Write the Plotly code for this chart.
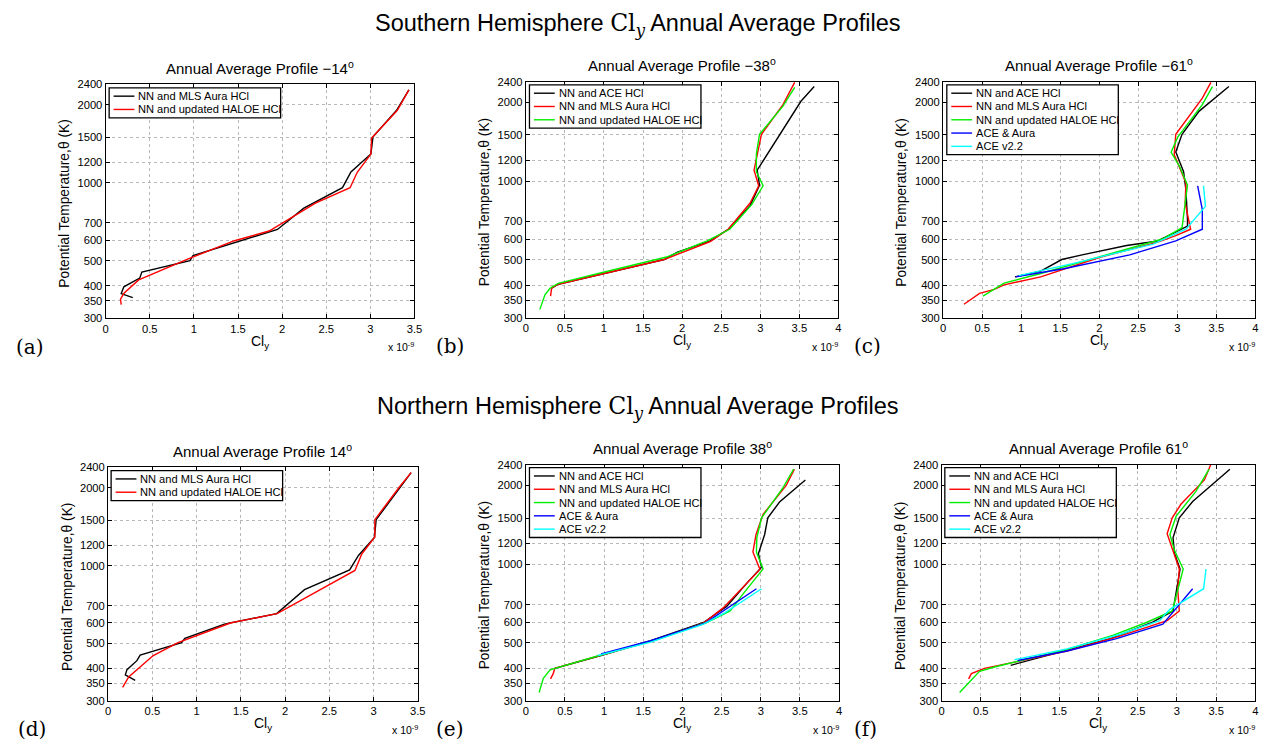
import plotly.graph_objects as go

# ---------------- data (Cl_y in units of 1e-9, theta in K) ----------------
# (a) Southern -14
a_mls_x = [3.437, 3.295, 3.03, 3.006, 2.78, 2.684, 2.246, 1.947, 0.99, 0.955, 0.41, 0.386, 0.206, 0.176, 0.307]
a_mls_t = [2284, 1901, 1504, 1292, 1100, 957, 798, 660, 523, 500, 452, 428, 396, 373, 360]
a_hal_x = [3.437, 3.306, 3.014, 3.006, 2.853, 2.77, 2.377, 1.853, 1.46, 0.936, 0.374, 0.21, 0.168, 0.176]
a_hal_t = [2284, 1905, 1490, 1290, 1100, 957, 834, 651, 597, 508, 421, 375, 355, 338]

# (b) Southern -38
b_ace_x = [3.69, 3.52, 2.96, 2.99, 2.87, 2.59, 2.36, 1.94, 1.77, 1.006, 0.414, 0.33]
b_ace_t = [2297, 2018, 1100, 965, 805, 654, 590, 535, 501, 443, 403, 389]
b_mls_x = [3.44, 3.29, 3.015, 2.95, 2.92, 2.98, 2.87, 2.59, 2.36, 1.77, 1.006, 0.414, 0.33, 0.317]
b_mls_t = [2385, 1960, 1509, 1200, 1100, 959, 824, 654, 587, 501, 443, 403, 389, 363]
b_hal_x = [3.44, 3.29, 2.99, 2.95, 2.95, 3.036, 2.89, 2.61, 2.32, 1.80, 1.006, 0.414, 0.31, 0.245, 0.18]
b_hal_t = [2279, 1934, 1509, 1270, 1085, 959, 812, 654, 590, 512, 449, 406, 389, 367, 323]

# (c) Southern -61
c_ace_x = [3.66, 3.28, 3.06, 2.98, 3.08, 3.11, 3.13, 3.13, 2.75, 2.35, 1.78, 1.52, 1.25, 0.92]
c_ace_t = [2297, 1851, 1509, 1290, 1085, 925, 713, 672, 590, 567, 522, 501, 452, 430]
c_mls_x = [3.43, 3.32, 2.98, 2.96, 3.11, 3.10, 3.17, 2.98, 2.75, 2.01, 1.25, 0.78, 0.656, 0.466, 0.267]
c_mls_t = [2385, 2075, 1509, 1260, 985, 824, 654, 618, 584, 511, 430, 401, 385, 372, 338]
c_hal_x = [3.45, 3.32, 3.005, 2.92, 3.03, 3.13, 3.06, 2.81, 2.01, 1.25, 0.78, 0.51]
c_hal_t = [2297, 1960, 1471, 1290, 1134, 965, 663, 600, 514, 443, 407, 363]
c_both_x = [3.26, 3.32, 3.32, 2.98, 2.39, 1.545, 0.93]
c_both_t = [959, 777, 654, 590, 522, 462, 430]
c_v22_x = [3.335, 3.36, 3.11, 2.69, 1.67, 1.16, 0.97]
c_v22_t = [959, 800, 654, 574, 484, 449, 435]

# (d) Northern 14
d_mls_x = [3.425, 3.295, 3.03, 3.01, 2.83, 2.73, 2.22, 1.905, 1.315, 0.867, 0.83, 0.362, 0.325, 0.213, 0.194, 0.306]
d_mls_t = [2290, 1990, 1506, 1286, 1095, 963, 807, 652, 594, 523, 504, 451, 429, 396, 378, 360]
d_hal_x = [3.425, 3.295, 3.015, 3.015, 2.865, 2.79, 1.91, 1.39, 0.79, 0.51, 0.232, 0.164]
d_hal_t = [2290, 2018, 1506, 1290, 1105, 958, 652, 601, 504, 449, 371, 338]

# (e) Northern 38
e_ace_x = [3.57, 3.24, 3.09, 3.05, 2.97, 3.01, 2.84, 2.565, 2.27, 1.595, 0.96, 0.37]
e_ace_t = [2098, 1727, 1502, 1298, 1095, 973, 857, 689, 598, 509, 447, 399]
e_mls_x = [3.43, 3.325, 3.03, 2.94, 2.90, 2.99, 2.52, 2.27, 1.68, 0.96, 0.37, 0.35, 0.316]
e_mls_t = [2306, 2001, 1549, 1298, 1112, 954, 680, 595, 515, 447, 399, 381, 364]
e_hal_x = [3.42, 3.28, 3.01, 2.95, 2.945, 3.03, 2.78, 2.61, 2.31, 1.68, 0.96, 0.37, 0.31, 0.224, 0.17]
e_hal_t = [2306, 1950, 1502, 1260, 1112, 958, 773, 662, 598, 515, 449, 401, 394, 366, 323]
e_both_x = [2.945, 2.48, 2.29, 1.595, 0.96]
e_both_t = [805, 647, 595, 509, 453]
e_v22_x = [3.01, 2.54, 2.27, 1.595, 0.92]
e_v22_t = [805, 651, 589, 503, 447]

# (f) Northern 61
f_ace_x = [3.675, 3.2, 3.03, 2.95, 2.97, 3.04, 2.95, 2.69, 2.15, 1.35, 0.88]
f_ace_t = [2306, 1735, 1502, 1260, 1095, 958, 662, 600, 519, 447, 410]
f_mls_x = [3.43, 3.35, 3.05, 2.94, 2.875, 2.95, 3.03, 3.01, 3.03, 2.875, 2.27, 1.6, 0.97, 0.547, 0.38, 0.345]
f_mls_t = [2400, 2098, 1693, 1502, 1306, 1126, 958, 800, 662, 608, 530, 465, 425, 399, 381, 364]
f_hal_x = [3.41, 3.24, 2.99, 2.91, 2.97, 3.08, 2.94, 2.61, 2.19, 1.6, 0.674, 0.484, 0.23]
f_hal_t = [2306, 1893, 1525, 1298, 1126, 958, 662, 598, 535, 472, 404, 389, 323]
f_both_x = [3.2, 2.86, 2.82, 2.23, 1.6, 0.97]
f_both_t = [805, 614, 589, 519, 465, 428]
f_v22_x = [3.37, 3.34, 2.905, 2.78, 2.27, 1.6, 0.93]
f_v22_t = [958, 805, 670, 608, 538, 474, 431]

theta_ticks = [300, 350, 400, 500, 600, 700, 1000, 1200, 1500, 2000, 2400]

NAME_ACE = "NN and ACE HCl"
NAME_MLS = "NN and MLS Aura HCl"
NAME_HAL = "NN and updated HALOE HCl"
NAME_BOTH = "ACE &amp; Aura"
NAME_V22 = "ACE v2.2"

# ---------------- layout helpers ----------------
W, H = 1268, 749
OFF = 8  # page body margin compensation


def px(x):
    return (x - OFF) / W


def py(y):
    return 1 - (y - OFF) / H


panels = [
    # key, L, R, T, B, xmax, title, legend top-left, label
    ("a", 103.5, 415.0, 79.5, 317.0, 3.5, "Annual Average Profile \u221214<sup>o</sup>", (107, 83), "(a)"),
    ("b", 527.3, 842.7, 76.7, 316.7, 4.0, "Annual Average Profile \u221238<sup>o</sup>", (531, 80), "(b)"),
    ("c", 948.3, 1263.3, 76.7, 316.7, 4.0, "Annual Average Profile \u221261<sup>o</sup>", (952, 80), "(c)"),
    ("d", 106.0, 418.3, 468.7, 706.0, 3.5, "Annual Average Profile 14<sup>o</sup>", (109, 472), "(d)"),
    ("e", 527.3, 843.3, 466.0, 706.0, 4.0, "Annual Average Profile 38<sup>o</sup>", (531, 469), "(e)"),
    ("f", 946.7, 1263.3, 466.0, 706.0, 4.0, "Annual Average Profile 61<sup>o</sup>", (950, 469), "(f)"),
]

series = {
    "a": [(NAME_MLS, a_mls_x, a_mls_t, "#000000"), (NAME_HAL, a_hal_x, a_hal_t, "#ff0000")],
    "b": [(NAME_ACE, b_ace_x, b_ace_t, "#000000"), (NAME_MLS, b_mls_x, b_mls_t, "#ff0000"),
          (NAME_HAL, b_hal_x, b_hal_t, "#00ee00")],
    "c": [(NAME_ACE, c_ace_x, c_ace_t, "#000000"), (NAME_MLS, c_mls_x, c_mls_t, "#ff0000"),
          (NAME_HAL, c_hal_x, c_hal_t, "#00ee00"), (NAME_BOTH, c_both_x, c_both_t, "#0000ff"),
          (NAME_V22, c_v22_x, c_v22_t, "#00ffff")],
    "d": [(NAME_MLS, d_mls_x, d_mls_t, "#000000"), (NAME_HAL, d_hal_x, d_hal_t, "#ff0000")],
    "e": [(NAME_ACE, e_ace_x, e_ace_t, "#000000"), (NAME_MLS, e_mls_x, e_mls_t, "#ff0000"),
          (NAME_HAL, e_hal_x, e_hal_t, "#00ee00"), (NAME_BOTH, e_both_x, e_both_t, "#0000ff"),
          (NAME_V22, e_v22_x, e_v22_t, "#00ffff")],
    "f": [(NAME_ACE, f_ace_x, f_ace_t, "#000000"), (NAME_MLS, f_mls_x, f_mls_t, "#ff0000"),
          (NAME_HAL, f_hal_x, f_hal_t, "#00ee00"), (NAME_BOTH, f_both_x, f_both_t, "#0000ff"),
          (NAME_V22, f_v22_x, f_v22_t, "#00ffff")],
}

SANS = "Liberation Sans, Arial, sans-serif"
SERIF = "DejaVu Serif, serif"
TITLE_FONT = "Liberation Sans, Arial, sans-serif"

fig = go.Figure()
layout = dict(
    width=W, height=H, margin=dict(l=0, r=0, t=0, b=0),
    paper_bgcolor="white", plot_bgcolor="white",
    font=dict(family=SANS, size=11, color="black"),
    showlegend=False,
)
annotations = []
shapes = []

for i, (key, L, R, T, B, xmax, title, legpos, label) in enumerate(panels):
    n = i + 1
    xa = "xaxis" if n == 1 else f"xaxis{n}"
    ya = "yaxis" if n == 1 else f"yaxis{n}"
    xref = "x" if n == 1 else f"x{n}"
    yref = "y" if n == 1 else f"y{n}"

    layout[xa] = dict(
        domain=[px(L), px(R)], anchor=yref, range=[0, xmax], dtick=0.5, tick0=0,
        showline=True, linecolor="black", linewidth=1.2, mirror="ticks",
        ticks="inside", ticklen=4, tickcolor="black",
        showgrid=True, gridcolor="#b8b8b8", griddash="dot", gridwidth=1,
        zeroline=False, tickfont=dict(size=11.2, family=SANS),
    )
    layout[ya] = dict(
        domain=[py(B), py(T)], anchor=xref, type="log",
        range=[2.47712125472, 3.38021124171],
        tickvals=theta_ticks, ticktext=[str(v) for v in theta_ticks],
        showline=True, linecolor="black", linewidth=1.2, mirror="ticks",
        ticks="inside", ticklen=4, tickcolor="black",
        showgrid=True, gridcolor="#b8b8b8", griddash="dot", gridwidth=1,
        zeroline=False, tickfont=dict(size=11.2, family=SANS),
    )

    for name, xs, ts, col in series[key]:
        fig.add_trace(go.Scatter(
            x=xs, y=ts, mode="lines", name=name,
            line=dict(color=col, width=1.4),
            xaxis=xref, yaxis=yref, showlegend=False,
        ))

    # ---- legend box drawn in paper coordinates ----
    lx, ty = legpos
    nitems = len(series[key])
    bw = 173
    bh = 2 + 13.5 * nitems + 1.5
    shapes.append(dict(type="rect", xref="paper", yref="paper",
                       x0=px(lx), x1=px(lx + bw), y0=py(ty + bh), y1=py(ty),
                       line=dict(color="black", width=1.3), fillcolor="white", layer="above"))
    for k, (name, xs, ts, col) in enumerate(series[key]):
        yy = ty + 8.5 + 13.5 * k
        shapes.append(dict(type="line", xref="paper", yref="paper",
                           x0=px(lx + 4.5), x1=px(lx + 25.5), y0=py(yy), y1=py(yy),
                           line=dict(color=col, width=1.4), layer="above"))
        annotations.append(dict(text=name, x=px(lx + 27.5), y=py(yy), xref="paper", yref="paper",
                                showarrow=False, font=dict(size=11.1, family=SANS),
                                xanchor="left", yanchor="middle"))

    cx = (L + R) / 2
    # subplot title
    annotations.append(dict(text=title, x=px(cx), y=py(T - 17), xref="paper", yref="paper",
                            showarrow=False, font=dict(size=15, family=SANS),
                            xanchor="center", yanchor="middle"))
    # x title
    annotations.append(dict(text="Cl<sub>y</sub>", x=px(cx), y=py(B + 24), xref="paper", yref="paper",
                            showarrow=False, font=dict(size=14, family=SANS),
                            xanchor="center", yanchor="middle"))
    # multiplier
    annotations.append(dict(text="x 10<sup>-9</sup>", x=px(R + 2), y=py(B + 29), xref="paper", yref="paper",
                            showarrow=False, font=dict(size=10.5, family=SANS),
                            xanchor="right", yanchor="middle"))
    # y title
    annotations.append(dict(text="Potential Temperature,\u03b8 (K)", x=px(L - 41.5), y=py((T + B) / 2 + 3),
                            xref="paper", yref="paper", showarrow=False, textangle=-90,
                            font=dict(size=13.8, family=SANS), xanchor="center", yanchor="middle"))
    # panel label
    annotations.append(dict(text=label, x=px(L - 76.5), y=py(B + 29), xref="paper", yref="paper",
                            showarrow=False, font=dict(size=20, family=SERIF),
                            xanchor="center", yanchor="middle"))

cly = "<span style=\"font-family:'DejaVu Serif'\">Cl<sub><i>y</i></sub></span>"
annotations.append(dict(text=f"Southern Hemisphere {cly} Annual Average Profiles", x=px(640), y=py(19),
                        xref="paper", yref="paper", showarrow=False,
                        font=dict(size=23.5, family=TITLE_FONT), xanchor="center", yanchor="middle"))
annotations.append(dict(text=f"Northern Hemisphere {cly} Annual Average Profiles", x=px(640), y=py(408),
                        xref="paper", yref="paper", showarrow=False,
                        font=dict(size=23.5, family=TITLE_FONT), xanchor="center", yanchor="middle"))

layout["annotations"] = annotations
layout["shapes"] = shapes
fig.update_layout(**layout)
fig.write_html("out.html")
